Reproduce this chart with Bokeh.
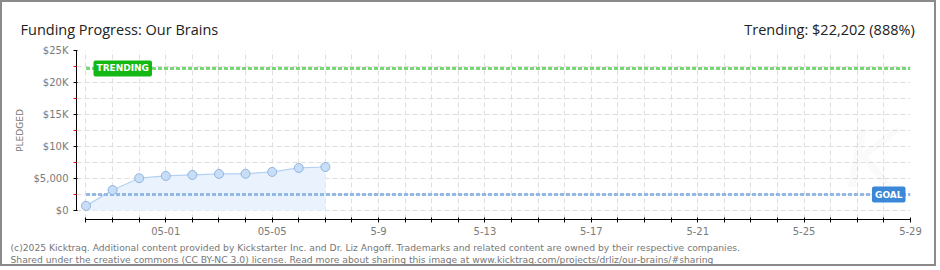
import math
import pandas as pd
from bokeh.plotting import figure
from bokeh.models import (FixedTicker, Label, ColumnDataSource, Range1d)
from bokeh.embed import file_html
from bokeh.resources import INLINE

# ---- data ----
dates = ["2025-04-28", "2025-04-29", "2025-04-30", "2025-05-01", "2025-05-02",
         "2025-05-03", "2025-05-04", "2025-05-05", "2025-05-06", "2025-05-07"]
pledged = [730, 3200, 5050, 5400, 5560, 5720, 5740, 6030, 6650, 6800]
goal = 2500
trending = 22202
campaign_start = "2025-04-28"
campaign_end = "2025-05-29"
x_tick_dates = ["2025-05-01", "2025-05-05", "2025-05-09", "2025-05-13",
                "2025-05-17", "2025-05-21", "2025-05-25", "2025-05-29"]
x_tick_labels = ["05-01", "05-05", "5-9", "5-13", "5-17", "5-21", "5-25", "5-29"]
y_major = [0, 5000, 10000, 15000, 20000, 25000]
y_major_labels = ["$0", "$5,000", "$10K", "$15K", "$20K", "$25K"]
y_minor = [2500, 7500, 12500, 17500, 22500]

title_text = "Funding Progress: Our Brains"
trend_text = "Trending:  $22,202 (888%)"
footer1 = ("(c)2025 Kicktraq. Additional content provided by Kickstarter Inc. and Dr. Liz Angoff. "
           "Trademarks and related content are owned by their respective companies.")
footer2 = ("Shared under the creative commons (CC BY-NC 3.0) license. Read more about sharing "
           "this image at www.kicktraq.com/projects/drliz/our-brains/#sharing")

# ---- derived ----
t0 = pd.Timestamp(campaign_start)
def day(d):
    return (pd.Timestamp(d) - t0).days
xs = [day(d) for d in dates]
x_end = day(campaign_end)
x_ticks_all = list(range(0, x_end + 1))
overrides = {t: "" for t in x_ticks_all}
for d, lab in zip(x_tick_dates, x_tick_labels):
    overrides[day(d)] = lab

X0, X1 = -0.357, x_end
Y0, Y1 = -1400, 25000
W, H = 936, 266
ML, MR, MT, MB = 74, 28, 48, 49
# page pixel -> data helpers (page = canvas + 2px border)
FL, FR, FT, FB = 2 + ML, 2 + W - MR, 2 + MT, 2 + H - MB
def dx(px):
    return X0 + (px - FL) * (X1 - X0) / (FR - FL)
def dy(py):
    return Y0 + (FB - py) * (Y1 - Y0) / (FB - FT)

p = figure(width=W, height=H, output_backend="svg", toolbar_location=None,
           x_range=Range1d(X0, X1), y_range=Range1d(Y0, Y1),
           min_border_left=ML, min_border_right=MR, min_border_top=MT,
           min_border_bottom=MB)
p.styles = {"border": "2px solid #8a8a8a"}
p.outline_line_color = None
p.background_fill_color = "white"
p.border_fill_color = "white"

# grids
grid_color = "#dedede"
p.xgrid.ticker = FixedTicker(ticks=x_ticks_all)
p.xgrid.grid_line_color = grid_color
p.xgrid.grid_line_dash = "5 3"
p.ygrid.ticker = FixedTicker(ticks=y_major, minor_ticks=y_minor)
p.ygrid.grid_line_color = grid_color
p.ygrid.grid_line_dash = "5 3"
p.ygrid.minor_grid_line_color = grid_color
p.ygrid.minor_grid_line_dash = "5 3"

# x axis
xa = p.xaxis[0]
xa.ticker = FixedTicker(ticks=x_ticks_all, minor_ticks=[])
xa.major_label_overrides = overrides
xa.bounds = (0, x_end)
xa.axis_line_color = "black"
xa.major_tick_line_color = "black"
xa.major_tick_in = 2
xa.major_tick_out = 3
xa.minor_tick_line_color = None
xa.major_label_text_font = "DejaVu Sans"
xa.major_label_text_font_size = "10px"
xa.major_label_text_color = "#7a7a7a"
xa.major_label_standoff = 4

# y axis
ya = p.yaxis[0]
ya.ticker = FixedTicker(ticks=y_major, minor_ticks=y_minor)
ya.major_label_overrides = {v: s for v, s in zip(y_major, y_major_labels)}
ya.bounds = (0, 25000)
ya.axis_line_color = "black"
ya.major_tick_line_color = "black"
ya.major_tick_in = 1
ya.major_tick_out = 3
ya.minor_tick_line_color = "#ee1111"
ya.minor_tick_in = 0
ya.minor_tick_out = 3
ya.major_label_text_font = "DejaVu Sans"
ya.major_label_text_font_size = "10px"
ya.major_label_text_color = "#7a7a7a"
ya.major_label_standoff = 5

# area + line + points
src = ColumnDataSource(dict(x=xs, y=pledged, base=[0] * len(xs)))
p.varea(x="x", y1="base", y2="y", source=src, fill_color="#eaf3fd")
p.line(x="x", y="y", source=src, line_color="#b3d2f3", line_width=1.2)

# goal and trending lines
p.segment(x0=[0], y0=[goal], x1=[x_end], y1=[goal], line_color="#94b9e4",
          line_width=3, line_dash="4 2")
p.segment(x0=[0], y0=[trending], x1=[x_end], y1=[trending], line_color="#78d878",
          line_width=3, line_dash="4 2")

p.scatter(x="x", y="y", source=src, size=9, fill_color="#c8ddf6",
          line_color="#90b5e2", line_width=1)

# watermark
p.add_layout(Label(x=dx(845), y=dy(205), text="K",
                   text_font="DejaVu Sans", text_font_style="italic",
                   text_font_size="80px", text_color="#000000", text_alpha=0.018))

# badges
p.add_layout(Label(x=dx(93), y=trending,
                   text="TRENDING", text_font="DejaVu Sans", text_font_size="9px",
                   text_font_style="bold", text_color="white",
                   text_baseline="middle", text_align="left",
                   background_fill_color="#14b814", padding=3, border_radius=2))
p.add_layout(Label(x=dx(905), y=goal,
                   text="GOAL", text_font="DejaVu Sans", text_font_size="9px",
                   text_font_style="bold", text_color="white",
                   text_baseline="middle", text_align="right",
                   background_fill_color="#3b88d9", padding=3, border_radius=2))

# texts outside the frame: placed in side panels so they are not clipped
p.add_layout(Label(x=dx(19), y=dy(130), text="PLEDGED", angle=math.pi / 2,
                   text_font="DejaVu Sans", text_font_size="9px", text_color="#777777",
                   text_align="center", text_baseline="middle"), "left")
p.add_layout(Label(x=dx(20), y=dy(29), text=title_text, text_font="Open Sans",
                   text_font_size="14.5px", text_color="#222222",
                   text_baseline="alphabetic"), "above")
p.add_layout(Label(x=dx(918), y=dy(29), text=trend_text, text_font="Open Sans",
                   text_font_size="14.5px", text_color="#222222",
                   text_baseline="alphabetic", text_align="right"), "above")
p.add_layout(Label(x=dx(10), y=dy(247), text=footer1, text_font="DejaVu Sans",
                   text_font_size="9.2px", text_color="#777777",
                   text_baseline="alphabetic"), "below")
p.add_layout(Label(x=dx(10), y=dy(259), text=footer2, text_font="DejaVu Sans",
                   text_font_size="9.2px", text_color="#777777",
                   text_baseline="alphabetic"), "below")

open("out.html", "w").write(file_html(p, INLINE))
